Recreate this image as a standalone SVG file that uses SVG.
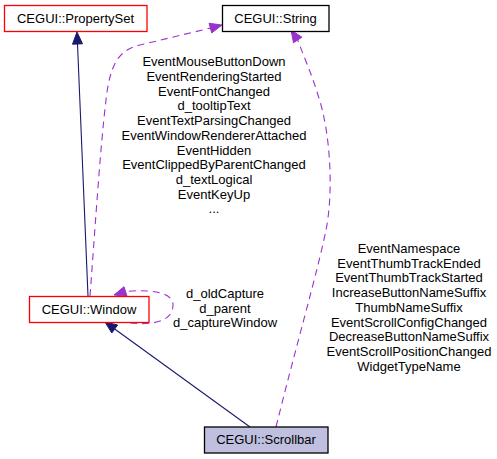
<svg xmlns="http://www.w3.org/2000/svg" width="497" height="459" viewBox="0 0 497 459">
<style>
text{font-family:"Liberation Sans",Arial,sans-serif;font-size:13px;fill:#000;text-anchor:middle}
.box{fill:#fff;stroke-width:1.3}
.red{stroke:#ff0000}
.blk{stroke:#000}
.inh{fill:none;stroke:#191970;stroke-width:1.1}
.use{fill:none;stroke:#9a32cd;stroke-width:1.1;stroke-dasharray:7,5}
.ah1{fill:#191970;stroke:#191970}
.ah2{fill:#9a32cd;stroke:#9a32cd}
</style>
<rect width="497" height="459" fill="#fff"/>
<g id="connectors">
  <path class="inh" d="M88,296 L77.5,44"/>
  <polygon class="ah1" points="77,32 72.5,44.2 82.5,43.8"/>
  <path class="inh" d="M250,427 L114.7,329"/>
  <polygon class="ah1" points="105,322 117.6,325 111.8,333"/>
  <path class="use" d="M90,296 C95,230 100,150 106,100 C110,65 118,50 140,45 L210.4,28.1"/>
  <polygon class="ah2" points="222,25 209.1,23.3 211.7,32.9"/>
  <path class="use" d="M276,427 C295,350 318,270 326,230 C334,190 330,130 318,95 C312,75 304,57 297.7,40"/>
  <polygon class="ah2" points="291,30 301.9,37.2 293.5,42.8"/>
  <path class="use" d="M130,323 C160,326 173,318 173,305 C173,292 150,289 125.5,291.5"/>
  <polygon class="ah2" points="114,295 124,286.7 127,296.3"/>
  <g id="label-window-string">
    <text x="214" y="66">EventMouseButtonDown</text>
    <text x="214" y="81">EventRenderingStarted</text>
    <text x="214" y="95.5">EventFontChanged</text>
    <text x="214" y="110">d_tooltipText</text>
    <text x="214" y="125">EventTextParsingChanged</text>
    <text x="214" y="140">EventWindowRendererAttached</text>
    <text x="214" y="154.5">EventHidden</text>
    <text x="214" y="169">EventClippedByParentChanged</text>
    <text x="214" y="184">d_textLogical</text>
    <text x="214" y="199">EventKeyUp</text>
    <text x="214" y="213">...</text>
  </g>
  <g id="label-window-self">
    <text x="225" y="298">d_oldCapture</text>
    <text x="225" y="312.5">d_parent</text>
    <text x="225" y="327">d_captureWindow</text>
  </g>
  <g id="label-scrollbar-string">
    <text x="409" y="253">EventNamespace</text>
    <text x="409" y="267.7">EventThumbTrackEnded</text>
    <text x="409" y="282.4">EventThumbTrackStarted</text>
    <text x="409" y="297">IncreaseButtonNameSuffix</text>
    <text x="409" y="311.8">ThumbNameSuffix</text>
    <text x="409" y="326.5">EventScrollConfigChanged</text>
    <text x="409" y="341">DecreaseButtonNameSuffix</text>
    <text x="409" y="356">EventScrollPositionChanged</text>
    <text x="409" y="370.6">WidgetTypeName</text>
  </g>
</g>
<g id="node-propertyset">
  <rect class="box red" x="4.5" y="5.5" width="142.5" height="26"/>
  <text x="75.5" y="22.5">CEGUI::PropertySet</text>
</g>
<g id="node-string">
  <rect class="box blk" x="222.5" y="5.5" width="106.5" height="26"/>
  <text x="275.5" y="22.5">CEGUI::String</text>
</g>
<g id="node-window">
  <rect class="box red" x="29.5" y="296.5" width="119.5" height="26"/>
  <text x="89" y="313.5">CEGUI::Window</text>
</g>
<g id="node-scrollbar">
  <rect class="box blk" x="204.5" y="427" width="123.5" height="26" style="fill:#bfbfdf"/>
  <text x="266" y="444">CEGUI::Scrollbar</text>
</g>
</svg>
